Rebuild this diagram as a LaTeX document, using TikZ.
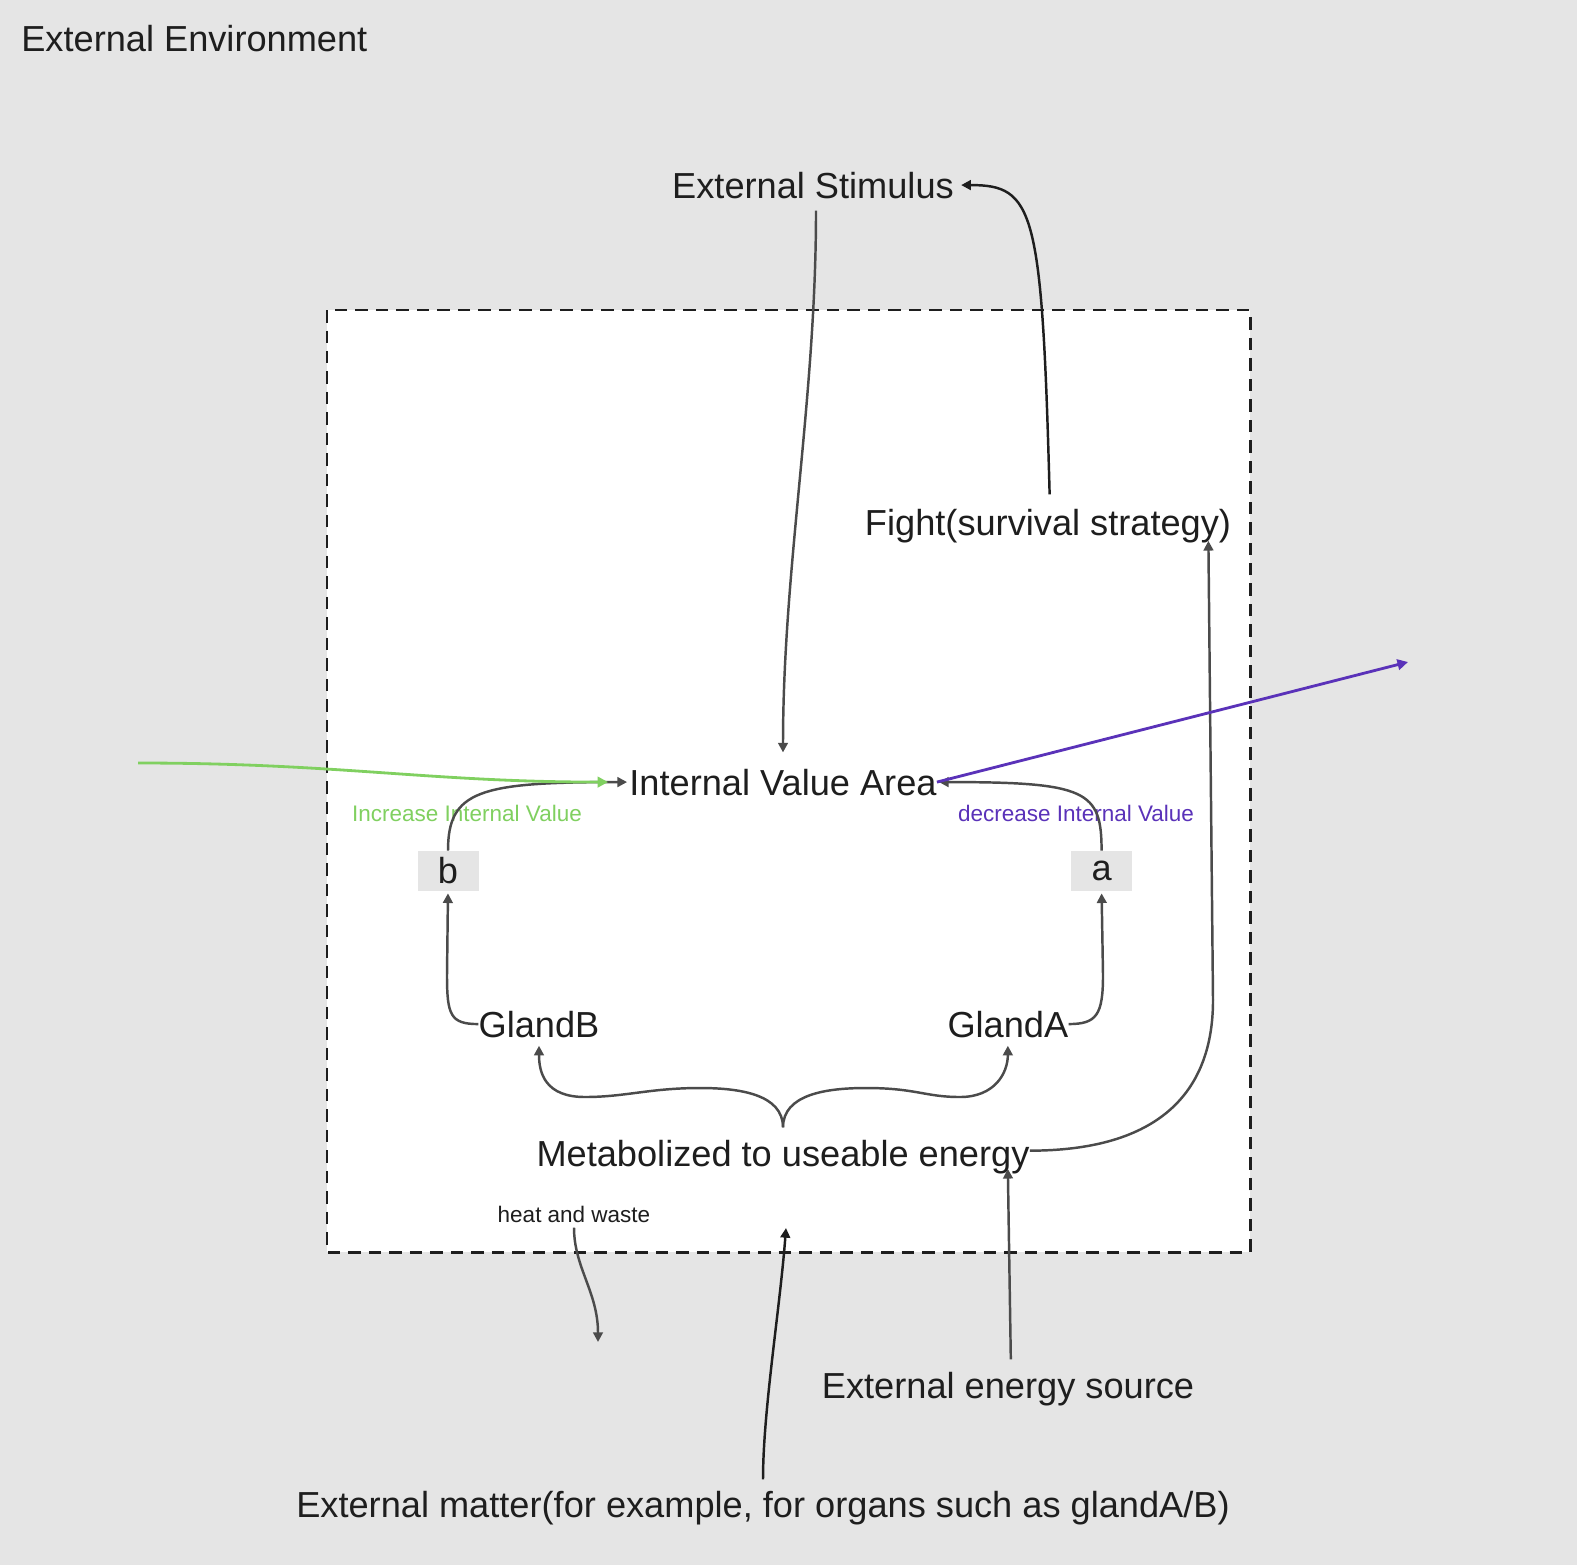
\documentclass[tikz,border=0pt]{standalone}
\usepackage{fontspec}
\setmainfont{Liberation Sans}
\usetikzlibrary{arrows.meta,positioning}
\definecolor{fondo}{RGB}{229,229,229}
\definecolor{tinta}{RGB}{30,30,30}
\definecolor{linea}{RGB}{75,75,75}
\definecolor{verde}{RGB}{128,208,96}
\definecolor{morado}{RGB}{90,50,185}

\begin{document}
\begin{tikzpicture}[x=0.02cm, y=-0.02cm, node distance=1cm]
  % definicion de estilos
  %Define style for texts and boxes
   \tikzset{
   texto/.style={
           inner sep=0pt,
           text=tinta,
           font=\fontsize{20.6}{24}\selectfont},
   chico/.style={
           inner sep=0pt,
           font=\fontsize{12.8}{15}\selectfont},
   cuadro/.style={
           rectangle,
           fill=fondo,
           minimum width=1.22cm,
           minimum height=0.8cm,
           inner sep=0pt,
           text=tinta,
           font=\fontsize{20.6}{24}\selectfont},
    % Define arrow style
    arrow/.style={
           -{Triangle[length=5.5pt,width=5.5pt]},
           line width=1.4pt,
           draw=linea,}
    }
  \tikzstyle{oscuro} = [arrow, draw=tinta]
  \tikzstyle{coloreado} = [arrow, line width=1.6pt, -{Triangle[length=6pt,width=6pt]}]

  % Fondo
  \useasboundingbox (0,0) rectangle (1577,1565);
  \fill[fondo] (0,0) rectangle (1577,1565);
  \draw[fill=white, draw=tinta, line width=1.7pt, dash pattern=on 0.25cm off 0.16cm] (327,310) rectangle (1250,1252);

  % Gráfico
  \node[texto, anchor=base west] (env) at (21,51) {External Environment};
  \node[texto, anchor=base] (stim) at (813,198) {External Stimulus};
  \node[texto, anchor=base] (fight) at (1048,535) {Fight(survival strategy)};
  \node[texto, anchor=base] (ival) at (783,795) {Internal Value Area};
  \node[cuadro] (nodeb) at (448,871) {b};
  \node[cuadro, right=11.84cm of nodeb] (nodea) {a};
  \node[chico, text=verde, anchor=base] (incr) at (467,821) {Increase Internal Value};
  \node[chico, text=morado, anchor=base] (decr) at (1076,821) {decrease Internal Value};
  \node[texto, anchor=base] (glandb) at (539,1037) {GlandB};
  \node[texto, right=6.95cm of glandb] (glanda) {GlandA};
  \node[texto, anchor=base] (metab) at (783,1166) {Metabolized to useable energy};
  \node[chico, text=tinta, anchor=base] (heat) at (574,1222) {heat and waste};
  \node[texto, anchor=base] (energy) at (1008,1398) {External energy source};
  \node[texto, anchor=base] (matter) at (763,1517) {External matter(for example, for organs such as glandA/B)};
  \coordinate (ghost1) at (138,763);
  \coordinate (ghost2) at (1408,662);
  \coordinate (ghost3) at (598,1342);
  \coordinate (ghost4) at (786,1228);

  \draw[arrow, shorten <=0.24cm, shorten >=0.32cm] ([xshift=0.06cm]stim.south) .. controls +(0,200) and +(0,-200) .. (ival.north);
  \draw[oscuro, shorten <=0.28cm, shorten >=0.14cm] ([xshift=0.04cm]fight.north) .. controls +(-8,-300) and +(80,0) .. (stim.east);
  \draw[arrow] ([yshift=0.12cm]metab.east) .. controls +(120,0) and +(0,100) .. (1213,1000) -- ([xshift=-0.46cm, yshift=0.04cm]fight.south east);
  \draw[arrow, shorten <=0.24cm, shorten >=0.16cm] (metab.north) .. controls +(0,-45) and +(40,0) .. (700,1088) .. controls +(-50,0) and +(40,0) .. (585,1097) .. controls +(-40,0) and +(0,35) .. (glandb.south);
  \draw[arrow, shorten <=0.24cm, shorten >=0.16cm] (metab.north) .. controls +(0,-45) and +(-40,0) .. (866,1088) .. controls +(50,0) and +(-35,0) .. (960,1097) .. controls +(35,0) and +(0,35) .. (glanda.south);
  \draw[arrow, shorten >=0.04cm] (glandb.west) .. controls +(-28,0) and +(0,40) .. (447,975) -- (nodeb.south);
  \draw[arrow, shorten >=0.04cm] (glanda.east) .. controls +(28,0) and +(0,40) .. (1103,975) -- (nodea.south);
  \draw[arrow, shorten >=0.04cm] (nodeb.north) .. controls +(0,-60) and +(-150,0) .. (ival.west);
  \draw[arrow, shorten >=0.04cm] (nodea.north) .. controls +(0,-60) and +(150,0) .. (ival.east);
  \draw[coloreado, draw=verde, shorten >=0.42cm] (ghost1) .. controls +(200,0) and +(-200,0) .. (ival.west);
  \draw[coloreado, draw=morado] (ival.east) -- (ghost2);
  \draw[arrow, shorten <=0.1cm] (heat.south) .. controls +(0,45) and +(0,-50) .. (ghost3);
  \draw[oscuro, shorten <=0.22cm] (matter.north) .. controls +(0,-80) and +(-6,80) .. (ghost4);
  \draw[arrow, shorten <=0.24cm] ([xshift=0.06cm]energy.north) -- ([xshift=-0.44cm, yshift=0.1cm]metab.south east);
 \end{tikzpicture}
\end{document}
